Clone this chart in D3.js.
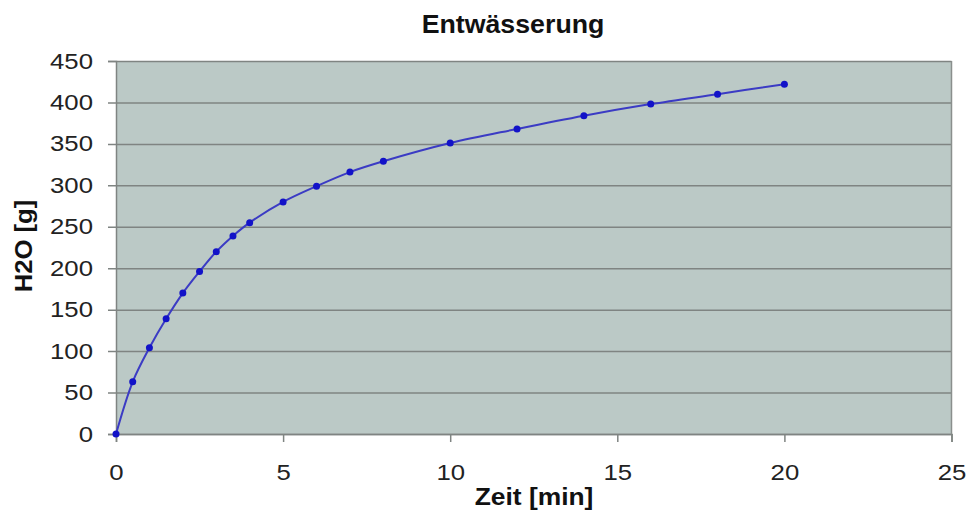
<!DOCTYPE html>
<html><head><meta charset="utf-8">
<script src="https://cdn.jsdelivr.net/npm/d3@7"></script>
<style>body{margin:0;background:#fff;} text{font-family:"Liberation Sans",Arial,sans-serif;}</style>
</head><body>
<svg id="c" width="971" height="532"></svg>
<script>
const zeit = [0, 0.5, 1, 1.5, 2, 2.5, 3, 3.5, 4, 5, 6, 7, 8, 10, 12, 14, 16, 18, 20];
const wasser = [0, 63, 104, 139, 170, 196, 220, 239, 255, 280, 299, 316, 329, 351, 368, 384, 398, 410, 422];
const xTicks = [0, 5, 10, 15, 20, 25];
const yTicks = [0, 50, 100, 150, 200, 250, 300, 350, 400, 450];
const title = "Entwässerung", xLabel = "Zeit [min]", yLabel = "H2O [g]";

const svg = d3.select("#c");
const L = 116, R = 951.5, T = 61, B = 434;
const x = d3.scaleLinear().domain([0, 25]).range([L, R]);
const y = d3.scaleLinear().domain([0, 450]).range([B, T]);
const K = 1.17;

svg.append("rect").attr("x", L).attr("y", T).attr("width", R - L).attr("height", B - T)
  .attr("fill", "#bbc9c6");

const yAx = svg.append("g").attr("transform", `translate(${L},0)`)
  .call(d3.axisLeft(y).tickValues(yTicks).tickSize(8).tickPadding(15));
yAx.select(".domain").attr("stroke", "#7f8482").attr("stroke-width", 1.5);
yAx.selectAll(".tick line").attr("stroke", "#7f8482").attr("stroke-width", 1.5).attr("x2", R - L).attr("x1", -8);
yAx.selectAll(".tick text").attr("font-size", 22).attr("fill", "#222")
  .attr("font-family", "Liberation Sans, Arial, sans-serif")
  .attr("x", -23 / K).attr("transform", `scale(${K},1)`);

const xAx = svg.append("g").attr("transform", `translate(0,${B})`)
  .call(d3.axisBottom(x).tickValues(xTicks).tickSize(8));
xAx.select(".domain").attr("stroke", "#7f8482").attr("stroke-width", 1.5);
xAx.selectAll(".tick line").attr("stroke", "#7f8482").attr("stroke-width", 1.5);
xAx.selectAll(".tick text").attr("font-size", 22).attr("fill", "#222").attr("y", 46).attr("dy", null)
  .attr("font-family", "Liberation Sans, Arial, sans-serif")
  .attr("transform", `scale(${K},1)`);

svg.append("line").attr("x1", R).attr("x2", R).attr("y1", T).attr("y2", B)
  .attr("stroke", "#8a8f8d").attr("stroke-width", 1.5);

const pts = zeit.map((d, i) => [d, wasser[i]]);
svg.append("path").datum(pts)
  .attr("d", d3.line().x(d => x(d[0])).y(d => y(d[1])).curve(d3.curveCatmullRom.alpha(0.5)))
  .attr("fill", "none").attr("stroke", "#3b3bc4").attr("stroke-width", 2);

svg.append("g").selectAll("circle").data(pts).join("circle")
  .attr("cx", d => x(d[0])).attr("cy", d => y(d[1])).attr("r", 3.5)
  .attr("fill", "#1212c8");

svg.append("text").attr("transform", "translate(513,33) scale(1.07,1)").attr("text-anchor", "middle")
  .attr("font-size", 25).attr("font-weight", "bold").attr("fill", "#111").text(title);
svg.append("text").attr("transform", "translate(534,505) scale(1.1,1)").attr("text-anchor", "middle")
  .attr("font-size", 24).attr("font-weight", "bold").attr("fill", "#111").text(xLabel);
svg.append("text").attr("transform", "translate(32,246) rotate(-90) scale(1.07,1)").attr("text-anchor", "middle")
  .attr("font-size", 24).attr("font-weight", "bold").attr("fill", "#111").text(yLabel);
</script>
</body></html>
